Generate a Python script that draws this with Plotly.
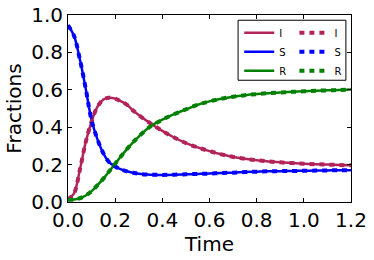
import plotly.graph_objects as go

time = [0, 0.025, 0.05, 0.075, 0.1, 0.125, 0.15, 0.175, 0.2, 0.225, 0.25, 0.275, 0.3,
        0.35, 0.4, 0.45, 0.5, 0.55, 0.6, 0.65, 0.7, 0.75, 0.8, 0.85, 0.9, 0.95,
        1.0, 1.05, 1.1, 1.15, 1.2]

frac_I = [0.015, 0.045, 0.17, 0.32, 0.43, 0.51, 0.548, 0.558, 0.553, 0.538, 0.52, 0.49, 0.465,
          0.42, 0.38, 0.345, 0.315, 0.292, 0.272, 0.255, 0.241, 0.231, 0.223, 0.217, 0.212, 0.208,
          0.205, 0.202, 0.2, 0.198, 0.196]

frac_S = [0.945, 0.89, 0.765, 0.607, 0.437, 0.335, 0.26, 0.212, 0.19, 0.174, 0.164, 0.157, 0.151,
          0.146, 0.145, 0.146, 0.148, 0.15, 0.152, 0.155, 0.157, 0.16, 0.162, 0.164, 0.165, 0.166,
          0.167, 0.168, 0.169, 0.17, 0.17]

frac_R = [0.012, 0.013, 0.02, 0.035, 0.058, 0.09, 0.125, 0.165, 0.205, 0.245, 0.283, 0.318, 0.35,
          0.405, 0.44, 0.47, 0.495, 0.52, 0.538, 0.552, 0.563, 0.571, 0.577, 0.582, 0.586, 0.589,
          0.592, 0.595, 0.597, 0.599, 0.601]

series_names = ["I", "S", "R"]
series_values = [frac_I, frac_S, frac_R]
colors = ["#B2235A", "#0000FF", "#008000"]

fig = go.Figure()
for name, vals, col in zip(series_names, series_values, colors):
    fig.add_trace(go.Scatter(x=time, y=vals, mode="lines", name=name,
                             line=dict(color=col, width=2.5, shape="spline"),
                             legend="legend"))
for name, vals, col in zip(series_names, series_values, colors):
    fig.add_trace(go.Scatter(x=time, y=vals, mode="lines", name=name,
                             line=dict(color=col, width=4, dash="5px,5px", shape="spline"),
                             legend="legend2"))

axis_common = dict(showline=True, linecolor="black", linewidth=1, mirror="ticks",
                   ticks="inside", ticklen=4, tickcolor="black", tickwidth=1,
                   showgrid=False, zeroline=False, automargin=False,
                   tickfont=dict(family="DejaVu Sans", size=20, color="black"),
                   tickformat=".1f", dtick=0.2)

legend_font = dict(family="DejaVu Sans", size=10, color="black")

fig.update_layout(
    width=374, height=260,
    margin=dict(l=68, r=23, t=15, b=58),
    paper_bgcolor="white", plot_bgcolor="white",
    font=dict(family="DejaVu Sans", color="black"),
    xaxis=dict(range=[0, 1.2], title=dict(text="Time", font=dict(size=20), standoff=0), **axis_common),
    yaxis=dict(range=[0, 1.0], title=dict(text="Fractions", font=dict(size=20), standoff=4), **axis_common),
    legend=dict(x=0.605, y=0.982, xanchor="left", yanchor="top", orientation="v",
                bgcolor="rgba(0,0,0,0)", borderwidth=0, font=legend_font, itemwidth=30),
    legend2=dict(x=0.80, y=0.982, xanchor="left", yanchor="top", orientation="v",
                 bgcolor="rgba(0,0,0,0)", borderwidth=0, font=legend_font, itemwidth=30),
    shapes=[dict(type="rect", xref="paper", yref="paper", x0=0.601, x1=0.982, y0=0.651, y1=0.972,
                 fillcolor="white", line=dict(color="black", width=1), layer="above")],
)

fig.write_html("out.html", config={"displayModeBar": False},
               post_script="document.body.style.margin='0';document.body.style.padding='0';")
